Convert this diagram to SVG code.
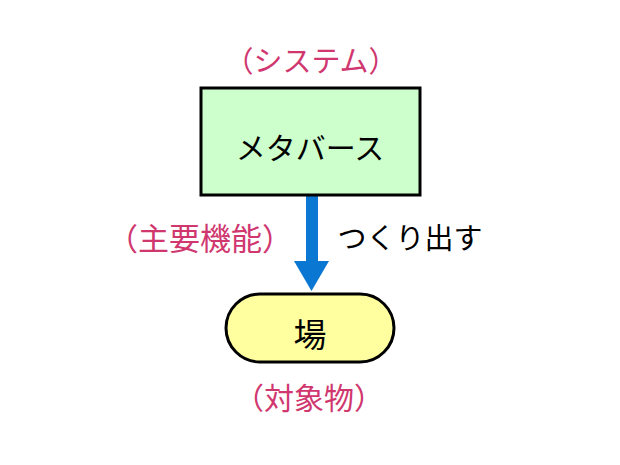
<svg xmlns="http://www.w3.org/2000/svg" width="620" height="465" viewBox="0 0 620 465">
<style>
text{font-family:"Noto Sans CJK JP","Noto Sans",sans-serif;text-anchor:middle;dominant-baseline:central}
.pink{fill:#D0376F}
.blk{fill:#000}
.box{stroke:#000;stroke-width:3}
</style>
<rect width="620" height="465" fill="#fff"/>
<g id="labels">
<text class="pink" x="311" y="59" font-size="29">（システム）</text>
<text class="pink" x="200" y="236" font-size="31">（主要機能）</text>
<text class="blk" x="410" y="236" font-size="29">つくり出す</text>
<text class="pink" x="309" y="396" font-size="30">（対象物）</text>
</g>
<g id="connectors">
<rect x="306" y="196" width="12" height="66" fill="#0A78D2"/>
<polygon points="294,261 329,261 311.5,291" fill="#0A78D2"/>
</g>
<g id="metaverse">
<rect class="box" x="201" y="88" width="219" height="107" fill="#CCFFCC"/>
<text class="blk" x="310" y="146" font-size="30">メタバース</text>
</g>
<g id="ba">
<rect class="box" x="226" y="294" width="168" height="68" rx="34" fill="#FFFFA0"/>
<text class="blk" x="310" y="333" font-size="33">場</text>
</g>
</svg>
